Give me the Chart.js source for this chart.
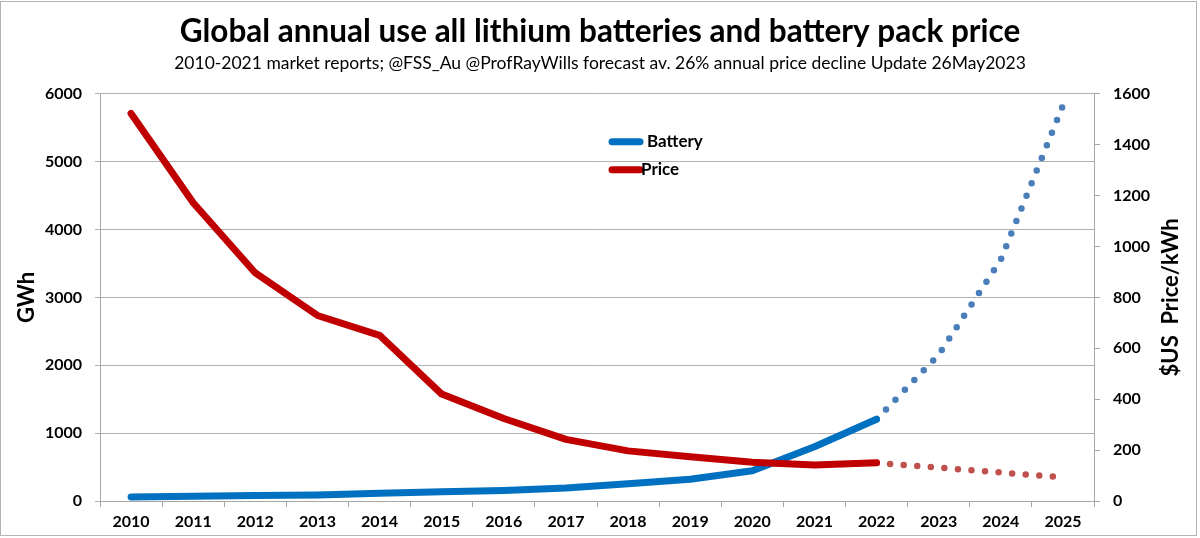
<!DOCTYPE html>
<html><head><meta charset="utf-8">
<script src="https://cdn.jsdelivr.net/npm/chart.js@4.4.0/dist/chart.umd.min.js"></script>
<style>
html,body{margin:0;padding:0;background:#fff;}
#wrap{position:relative;width:1200px;height:538px;}
#frame{position:absolute;left:0;top:1px;width:1195px;height:533px;border:1px solid #b4b4b4;pointer-events:none;}
canvas{display:block}
</style></head><body>
<div id="wrap"><canvas id="c" width="1200" height="538"></canvas><div id="frame"></div></div>
<script>
// ---- data ----
const years = ['2010','2011','2012','2013','2014','2015','2016','2017','2018','2019','2020','2021','2022','2023','2024','2025'];
const batteryActual   = [60, 70, 80, 90, 115, 135, 155, 190, 255, 320, 445, 800, 1205, null, null, null];
const batteryForecast = [null, null, null, null, null, null, null, null, null, null, null, null, 1205, 2155, 3555, 5830];
const priceActual     = [1523, 1172, 896, 729, 651, 420, 324, 242, 197, 174, 152, 141, 150, null, null, null];
const priceForecast   = [null, null, null, null, null, null, null, null, null, null, null, null, 150, 131, 112, 93];

const titleText = 'Global annual use all lithium batteries and battery pack price';
const subtitleText = '2010-2021 market reports; @FSS_Au @ProfRayWills forecast av. 26% annual price decline Update 26May2023';
const leftAxisTitle = 'GWh';
const rightAxisTitle = '$US  Price/kWh';

const FONT = 'Lato, "Open Sans", sans-serif';
const BLUE = '#0070c0', RED = '#c00000', BLUE_DOT = '#4a7ebb', RED_DOT = '#c0504d';

const overlay = {
  id: 'overlay',
  afterDraw(chart) {
    const ctx = chart.ctx;
    const ca = chart.chartArea;
    ctx.save();
    const items = [
      {ds: 0, y: ca.top + 48, textX: 647},
      {ds: 2, y: ca.top + 76, textX: 641}
    ];
    items.forEach(it => {
      const d = chart.data.datasets[it.ds];
      ctx.strokeStyle = d.borderColor;
      ctx.lineWidth = 7;
      ctx.lineCap = 'round';
      ctx.beginPath();
      ctx.moveTo(612, it.y); ctx.lineTo(640, it.y);
      ctx.stroke();
      ctx.fillStyle = '#000';
      ctx.font = 'bold 17px ' + FONT;
      ctx.textBaseline = 'middle';
      ctx.textAlign = 'left';
      ctx.fillText(d.label, it.textX, it.y);
    });
    ctx.translate(1171, (ca.top + ca.bottom) / 2);
    ctx.rotate(-Math.PI / 2);
    ctx.textAlign = 'center';
    ctx.textBaseline = 'middle';
    ctx.font = 'bold 22px ' + FONT;
    ctx.fillStyle = '#000';
    ctx.fillText(rightAxisTitle, 0, 0);
    ctx.restore();
  }
};

const plain = v => String(v);

new Chart(document.getElementById('c'), {
  type: 'line',
  data: {
    labels: years,
    datasets: [
      {label: 'Battery', data: batteryActual, yAxisID: 'y', borderColor: BLUE, backgroundColor: BLUE,
       borderWidth: 7, borderCapStyle: 'round', borderJoinStyle: 'round', pointRadius: 0, tension: 0, order: 2},
      {label: 'Battery forecast', data: batteryForecast, yAxisID: 'y', borderColor: BLUE_DOT, backgroundColor: BLUE_DOT,
       borderWidth: 6.5, borderCapStyle: 'round', borderDash: [0, 13.6], pointRadius: 0, tension: 0, order: 3},
      {label: 'Price', data: priceActual, yAxisID: 'y1', borderColor: RED, backgroundColor: RED,
       borderWidth: 7, borderCapStyle: 'round', borderJoinStyle: 'round', pointRadius: 0, tension: 0, order: 0},
      {label: 'Price forecast', data: priceForecast, yAxisID: 'y1', borderColor: RED_DOT, backgroundColor: RED_DOT,
       borderWidth: 6.5, borderCapStyle: 'round', borderDash: [0, 13.6], pointRadius: 0, tension: 0, order: 1}
    ]
  },
  options: {
    responsive: false,
    animation: false,
    devicePixelRatio: 1,
    layout: {padding: {left: 0, right: 0, top: 0, bottom: 0}},
    plugins: {
      legend: {display: false},
      tooltip: {enabled: false},
      title: {display: true, text: titleText, color: '#000',
              font: {family: FONT, size: 31.5, weight: 'bold'}, padding: {top: 13, bottom: 2}},
      subtitle: {display: true, text: subtitleText, color: '#000',
              font: {family: FONT, size: 17.5, weight: 'normal'}, padding: {top: 0, bottom: 20}}
    },
    scales: {
      x: {
        offset: true,
        grid: {offset: true, drawOnChartArea: false, drawTicks: true, tickLength: 6, color: '#a6a6a6'},
        border: {color: '#a6a6a6'},
        ticks: {color: '#000', font: {family: FONT, size: 16, weight: 'bold'}, padding: 5, maxRotation: 0, autoSkip: false},
        afterFit: s => { s.height = 37; }
      },
      y: {
        position: 'left', min: 0, max: 6000,
        grid: {color: '#b0b0b0', tickLength: 5},
        border: {color: '#a6a6a6'},
        ticks: {stepSize: 1000, color: '#000', font: {family: FONT, size: 16, weight: 'bold'}, padding: 13, callback: plain},
        title: {display: true, text: leftAxisTitle, color: '#000', font: {family: FONT, size: 22, weight: 'bold'}, padding: {top: 14, bottom: 0}},
        afterFit: s => { s.width = 100; }
      },
      y1: {
        position: 'right', min: 0, max: 1600,
        grid: {drawOnChartArea: false, color: '#a6a6a6', tickLength: 6},
        border: {color: '#a6a6a6'},
        ticks: {stepSize: 200, color: '#000', font: {family: FONT, size: 16, weight: 'bold'}, padding: 13, callback: plain},
        afterFit: s => { s.width = 106; }
      }
    }
  },
  plugins: [overlay]
});
</script>
</body></html>
